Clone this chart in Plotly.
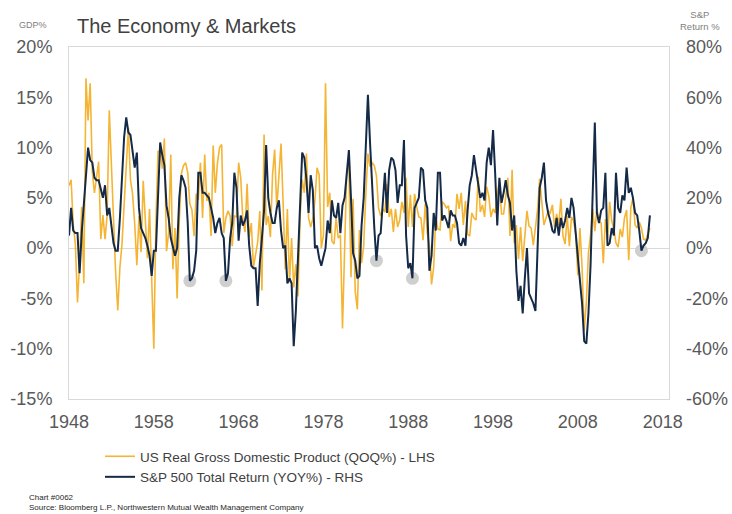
import plotly.graph_objects as go
import pandas as pd

# US real GDP, annualised quarter-over-quarter % (1948Q1 .. 2016Q3)
gdp_qoq = [
    6.2, 6.8, 2.3, 0.4,     # 1948
    -5.4, -1.4, 4.1, -3.5,  # 1949
    16.9, 12.7, 16.4, 7.6,  # 1950
    5.5, 7.1, 8.6, 0.9,     # 1951
    3.3, 0.9, 3.3, 13.7,    # 1952
    7.7, 3.1, -2.4, -6.2,   # 1953
    -1.9, 0.4, 4.6, 8.1,    # 1954
    12.0, 6.8, 5.4, 2.4,    # 1955
    -1.7, 3.2, -0.4, 6.7,   # 1956
    2.5, -1.0, 3.9, -4.1,   # 1957
    -10.0, 2.6, 9.6, 9.7,   # 1958
    7.9, 10.9, -0.3, 1.5,   # 1959
    9.3, -2.1, 2.0, -5.0,   # 1960
    2.7, 7.4, 8.2, 8.5,     # 1961
    7.5, 4.4, 3.8, 1.2,     # 1962
    5.4, 4.8, 8.5, 3.0,     # 1963
    9.3, 4.7, 5.5, 1.2,     # 1964
    10.2, 5.5, 8.4, 10.0,   # 1965
    10.3, 1.5, 3.0, 3.7,    # 1966
    3.2, 0.2, 3.2, 3.1,     # 1967
    8.5, 7.0, 2.8, 1.6,     # 1968
    6.4, 1.1, 2.5, -1.9,    # 1969
    -0.6, 0.6, 3.7, -4.2,   # 1970
    11.3, 2.3, 3.2, 1.1,    # 1971
    7.3, 9.8, 3.9, 6.8,     # 1972
    10.4, 4.5, -2.1, 3.9,   # 1973
    -3.4, 1.0, -3.9, -1.6,  # 1974
    -4.8, 3.1, 6.8, 5.5,    # 1975
    9.4, 3.0, 2.1, 2.9,     # 1976
    4.8, 8.0, 7.3, 0.0,     # 1977
    1.3, 16.4, 4.1, 5.5,    # 1978
    0.7, 0.4, 3.0, 1.0,     # 1979
    1.3, -8.0, -0.5, 7.7,   # 1980
    8.1, -2.9, 4.9, -4.3,   # 1981
    -6.1, 1.8, -1.5, 0.2,   # 1982
    5.4, 9.4, 8.1, 8.5,     # 1983
    8.2, 7.2, 4.0, 3.2,     # 1984
    3.9, 3.6, 6.4, 3.1,     # 1985
    3.9, 1.6, 3.9, 2.1,     # 1986
    2.8, 4.6, 3.5, 7.0,     # 1987
    2.1, 5.3, 2.1, 5.4,     # 1988
    4.1, 3.1, 3.0, 0.8,     # 1989
    4.4, 1.5, 0.3, -3.6,    # 1990
    -1.9, 3.1, 1.9, 1.8,    # 1991
    4.6, 4.4, 4.0, 4.2,     # 1992
    0.7, 2.4, 2.0, 5.4,     # 1993
    3.9, 5.5, 2.3, 4.7,     # 1994
    1.4, 1.2, 3.5, 3.0,     # 1995
    2.8, 7.1, 3.6, 4.3,     # 1996
    3.1, 6.1, 5.2, 3.1,     # 1997
    3.9, 3.5, 5.3, 6.7,     # 1998
    3.4, 3.4, 5.1, 7.0,     # 1999
    1.2, 7.8, 0.5, 2.3,     # 2000
    -1.1, 2.1, -1.3, 1.1,   # 2001
    3.7, 2.2, 2.0, 0.3,     # 2002
    2.1, 3.8, 6.9, 4.8,     # 2003
    2.3, 3.0, 3.7, 3.5,     # 2004
    4.3, 2.1, 3.4, 2.3,     # 2005
    4.9, 1.2, 0.4, 3.2,     # 2006
    0.2, 3.1, 2.7, 1.4,     # 2007
    -2.7, 2.0, -1.9, -8.2,  # 2008
    -5.4, -0.5, 1.3, 3.9,   # 2009
    1.7, 3.9, 2.7, 2.5,     # 2010
    -1.5, 2.9, 0.8, 4.6,    # 2011
    2.7, 1.9, 0.5, 0.1,     # 2012
    1.9, 1.1, 3.0, 3.8,     # 2013
    -1.2, 4.0, 5.0, 2.3,    # 2014
    2.0, 2.6, 2.0, 0.9,     # 2015
    0.8, 1.4, 2.0,          # 2016
]

# S&P 500 total return, year-over-year % (1948Q1 .. 2016Q3)
sp500_yoy = [
    5, 16, 7, 6,        # 1948
    6, -10, 6, 18,      # 1949
    28, 40, 35, 34,     # 1950
    28, 27, 27, 23,     # 1951
    20, 25, 13, 16,     # 1952
    9, 2, -1, -1,       # 1953
    12, 27, 44, 52,     # 1954
    46, 45, 39, 32,     # 1955
    38, 16, 8, 6,       # 1956
    4, 1, -3, -11,      # 1957
    -1, -1, 22, 42,     # 1958
    37, 33, 17, 12,     # 1959
    4, 1, -3, 0,        # 1960
    20, 29, 27, 24,     # 1961
    10, -13, -12, -9,   # 1962
    -1, 30, 30, 22,     # 1963
    22, 21, 20, 16,     # 1964
    12, 6, 10, 12,      # 1965
    6, 4, -13, -10,     # 1966
    4, 10, 30, 24,      # 1967
    3, 13, 9, 11,       # 1968
    15, 1, -7, -8,      # 1969
    -8, -23, -6, 4,     # 1970
    15, 41, 20, 14,     # 1971
    10, 10, 16, 19,     # 1972
    7, 0, 1, -14,       # 1973
    -12, -14, -39, -25, # 1974
    -6, 16, 38, 36,     # 1975
    27, 14, 29, 23,     # 1976
    0, 1, -4, -7,       # 1977
    -4, 0, 11, 6,       # 1978
    19, 13, 12, 18,     # 1979
    6, 17, 20, 31,      # 1980
    39, 20, -2, -5,     # 1981
    -12, -11, 9, 20,    # 1982
    41, 61, 42, 22,     # 1983
    8, -5, 5, 6,        # 1984
    18, 30, 14, 31,     # 1985
    36, 35, 31, 18,     # 1986
    25, 25, 43, 5,      # 1987
    -8, -6, -12, 16,    # 1988
    18, 20, 32, 31,     # 1989
    19, 16, -9, -3,     # 1990
    14, 7, 30, 30,      # 1991
    11, 13, 11, 8,      # 1992
    15, 13, 13, 10,     # 1993
    2, 1, 4, 1,         # 1994
    15, 25, 29, 37,     # 1995
    31, 25, 20, 22,     # 1996
    19, 34, 40, 33,     # 1997
    47, 30, 9, 28,      # 1998
    18, 22, 27, 21,     # 1999
    18, 7, 13, -9,      # 2000
    -21, -15, -26, -12, # 2001
    0, -18, -20, -22,   # 2002
    -25, 0, 24, 28,     # 2003
    34, 19, 14, 11,     # 2004
    7, 6, 12, 5,        # 2005
    12, 8, 11, 16,      # 2006
    12, 20, 16, 6,      # 2007
    -5, -13, -22, -37,  # 2008
    -38, -26, -7, 26,   # 2009
    50, 14, 10, 15,     # 2010
    16, 30, 1, 2,       # 2011
    8, 5, 30, 16,       # 2012
    14, 21, 19, 32,     # 2013
    22, 24, 20, 14,     # 2014
    13, 7, -1, 1,       # 2015
    2, 4, 13,           # 2016
]

# highlighted S&P troughs (grey circles)
highlight_dates = ["1962-04-01", "1966-07-01", "1984-04-01", "1988-07-01", "2015-07-01"]

x_ticks = [str(y) for y in range(1948, 2019, 10)]
gdp_ticks = [-15, -10, -5, 0, 5, 10, 15, 20]
sp_ticks = [-60, -40, -20, 0, 20, 40, 60, 80]

quarters = pd.date_range("1948-01-01", periods=len(gdp_qoq), freq="QS")
sp_series = pd.Series(sp500_yoy, index=quarters)
hl_x = pd.to_datetime(highlight_dates)
hl_y = [sp_series[d] for d in hl_x]

GOLD = "#F4B535"
NAVY = "#142A47"
AXIS = "#D9D9D9"
TXT = "#595959"
FONT = "Liberation Sans, Arial, sans-serif"

L, R, T, B = 69, 63, 47, 115
PW, PH = 732 - L - R, 514 - T - B


def px_x(px):
    return (px - L) / PW


def px_y(py):
    return (514 - B - py) / PH


fig = go.Figure()
fig.add_trace(go.Scatter(
    x=quarters, y=gdp_qoq, mode="lines", yaxis="y",
    name="US Real Gross Domestic Product (QOQ%) - LHS",
    line=dict(color=GOLD, width=1.6),
))
fig.add_trace(go.Scatter(
    x=hl_x, y=hl_y, mode="markers", yaxis="y2", showlegend=False,
    marker=dict(color="#CFCFCF", size=13), hoverinfo="skip",
))
fig.add_trace(go.Scatter(
    x=quarters, y=sp500_yoy, mode="lines", yaxis="y2",
    name="S&P 500 Total Return (YOY%) - RHS",
    line=dict(color=NAVY, width=2),
))

fig.update_layout(
    width=732, height=514,
    margin=dict(l=L, r=R, t=T, b=B, autoexpand=False),
    paper_bgcolor="white", plot_bgcolor="white",
    font=dict(family=FONT, color=TXT),
    xaxis=dict(
        type="date", range=["1948-01-01", "2018-10-01"],
        tickvals=pd.to_datetime([t + "-01-01" for t in x_ticks]), ticktext=x_ticks,
        tickangle=0,
        showgrid=False, zeroline=False, showline=True, linecolor=AXIS, linewidth=1,
        mirror=True, ticks="", ticklabelstandoff=6,
        tickfont=dict(size=18, color=TXT),
    ),
    yaxis=dict(
        range=[-15, 20], tickvals=gdp_ticks, ticktext=[f"{v}%" for v in gdp_ticks],
        showgrid=False, zeroline=True, zerolinecolor=AXIS, zerolinewidth=1,
        showline=True, linecolor=AXIS, mirror=True, ticks="", ticklabelstandoff=12,
        tickfont=dict(size=18, color=TXT),
    ),
    yaxis2=dict(
        range=[-60, 80], tickvals=sp_ticks, ticktext=[f"{v}%" for v in sp_ticks],
        overlaying="y", side="right",
        showgrid=False, zeroline=False, showline=False, ticks="", ticklabelstandoff=16,
        tickfont=dict(size=18, color=TXT),
    ),
    legend=dict(
        x=px_x(100), y=px_y(441), xanchor="left", yanchor="top",
        bgcolor="rgba(0,0,0,0)",
        font=dict(family=FONT, size=13.5, color="#404040"),
        itemwidth=30, tracegroupgap=0, traceorder="normal",
    ),
    showlegend=True,
    annotations=[
        dict(text="The Economy & Markets", xref="paper", yref="paper",
             x=px_x(75), y=px_y(26), showarrow=False, xanchor="left", yanchor="middle",
             font=dict(family=FONT, size=20, color="#404040")),
        dict(text="GDP%", xref="paper", yref="paper", x=px_x(33), y=px_y(25),
             showarrow=False, xanchor="center", yanchor="middle",
             font=dict(family=FONT, size=9, color="#808080")),
        dict(text="S&P<br>Return %", xref="paper", yref="paper", x=px_x(700),
             y=px_y(20), showarrow=False, xanchor="center", yanchor="middle",
             font=dict(family=FONT, size=9.5, color="#808080")),
        dict(text="Chart #0062<br>Source: Bloomberg L.P., Northwestern Mutual Wealth Management Company",
             xref="paper", yref="paper", x=px_x(27), y=px_y(491),
             showarrow=False, xanchor="left", yanchor="top", align="left",
             font=dict(family=FONT, size=8, color="#262626")),
    ],
)

fig.write_html("out.html", config={"displayModeBar": False},
               post_script="document.body.style.margin='0px';")
